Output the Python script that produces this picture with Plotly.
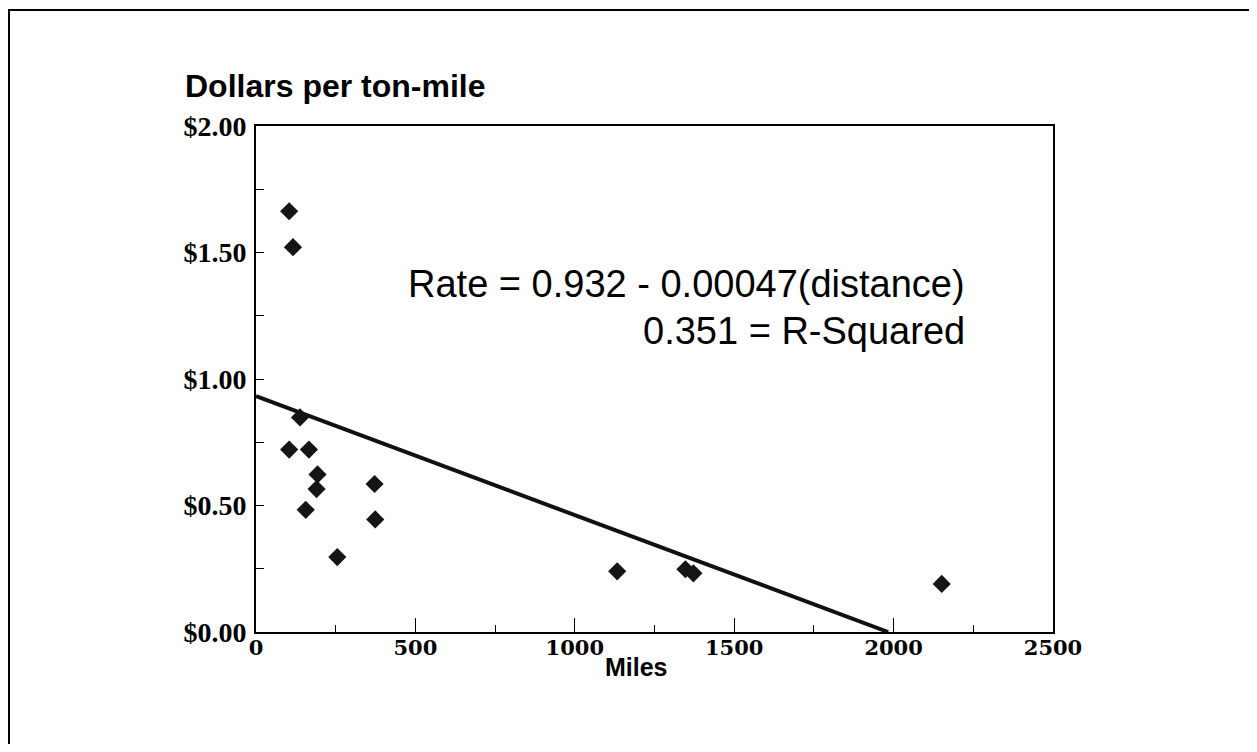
import plotly.graph_objects as go

# Data
miles = [104, 116, 138, 104, 166, 193, 190, 156, 255, 372, 374, 1133, 1347, 1372, 2151]
rate = [1.663, 1.521, 0.848, 0.721, 0.721, 0.623, 0.565, 0.483, 0.296, 0.585, 0.445, 0.240, 0.248, 0.232, 0.190]
intercept = 0.932
slope = -0.00047
x_ticks = [0, 500, 1000, 1500, 2000, 2500]
y_ticks = [0, 0.5, 1.0, 1.5, 2.0]

OFF = 8  # page body margin
W, H = 1257 - OFF, 752 - 2 * OFF
L, R, T, B = 256 - OFF, 1053 - OFF, 126 - OFF, 632 - OFF


def px(x):
    return (x - OFF - L) / (R - L)


def py(y):
    return (B - (y - OFF)) / (B - T)


fig = go.Figure()

line_x = [0, -intercept / slope]
line_y = [intercept + slope * v for v in line_x]
fig.add_trace(go.Scatter(x=line_x, y=line_y, mode="lines",
                         line=dict(color="#111111", width=4), hoverinfo="skip"))
fig.add_trace(go.Scatter(x=miles, y=rate, mode="markers",
                         marker=dict(symbol="diamond", size=14, color="#151515",
                                     line=dict(width=0))))

fig.update_layout(
    width=W, height=H,
    margin=dict(l=L, r=W - R, t=T, b=H - B),
    paper_bgcolor="white", plot_bgcolor="white",
    showlegend=False,
    xaxis=dict(range=[0, 2500], tickvals=x_ticks, showgrid=False, zeroline=False,
               showline=True, linecolor="black", linewidth=2, mirror=True,
               ticks="inside", ticklen=14, tickwidth=1, tickcolor="black",
               minor=dict(dtick=250, ticks="inside", ticklen=7, tickwidth=1, tickcolor="black"),
               ticklabelstandoff=-4,
               tickfont=dict(family="DejaVu Serif", size=21, color="black", weight="bold")),
    yaxis=dict(range=[0, 2.0], tickvals=y_ticks, tickformat="$.2f", showgrid=False,
               zeroline=False, showline=True, linecolor="black", linewidth=2, mirror=True,
               ticks="inside", ticklen=8, tickwidth=1, tickcolor="black",
               minor=dict(dtick=0.25, ticks="inside", ticklen=8, tickwidth=1, tickcolor="black"),
               ticklabelstandoff=2,
               tickfont=dict(family="Liberation Serif", size=28, color="black", weight="bold")),
)

fig.add_annotation(text="<b>Dollars per ton-mile</b>", xref="paper", yref="paper",
                   x=px(183), y=py(86), xanchor="left", yanchor="middle", showarrow=False,
                   font=dict(family="Liberation Sans", size=32, color="black"))
fig.add_annotation(text="<b>Miles</b>", xref="paper", yref="paper",
                   x=px(636), y=py(667), xanchor="center", yanchor="middle", showarrow=False,
                   font=dict(family="Liberation Sans", size=25, color="black"))
fig.add_annotation(text="Rate = 0.932 - 0.00047(distance)", xref="paper", yref="paper",
                   x=px(967), y=py(284), xanchor="right", yanchor="middle", showarrow=False,
                   font=dict(family="Liberation Sans", size=38, color="black"))
fig.add_annotation(text="0.351 = R-Squared", xref="paper", yref="paper",
                   x=px(967), y=py(331), xanchor="right", yanchor="middle", showarrow=False,
                   font=dict(family="Liberation Sans", size=38, color="black"))

# outer frame
fig.add_shape(type="rect", xref="paper", yref="paper",
              x0=px(9), x1=px(1254), y0=py(790), y1=py(10),
              line=dict(color="black", width=2), fillcolor="rgba(0,0,0,0)", layer="below")

fig.write_html("out.html")
